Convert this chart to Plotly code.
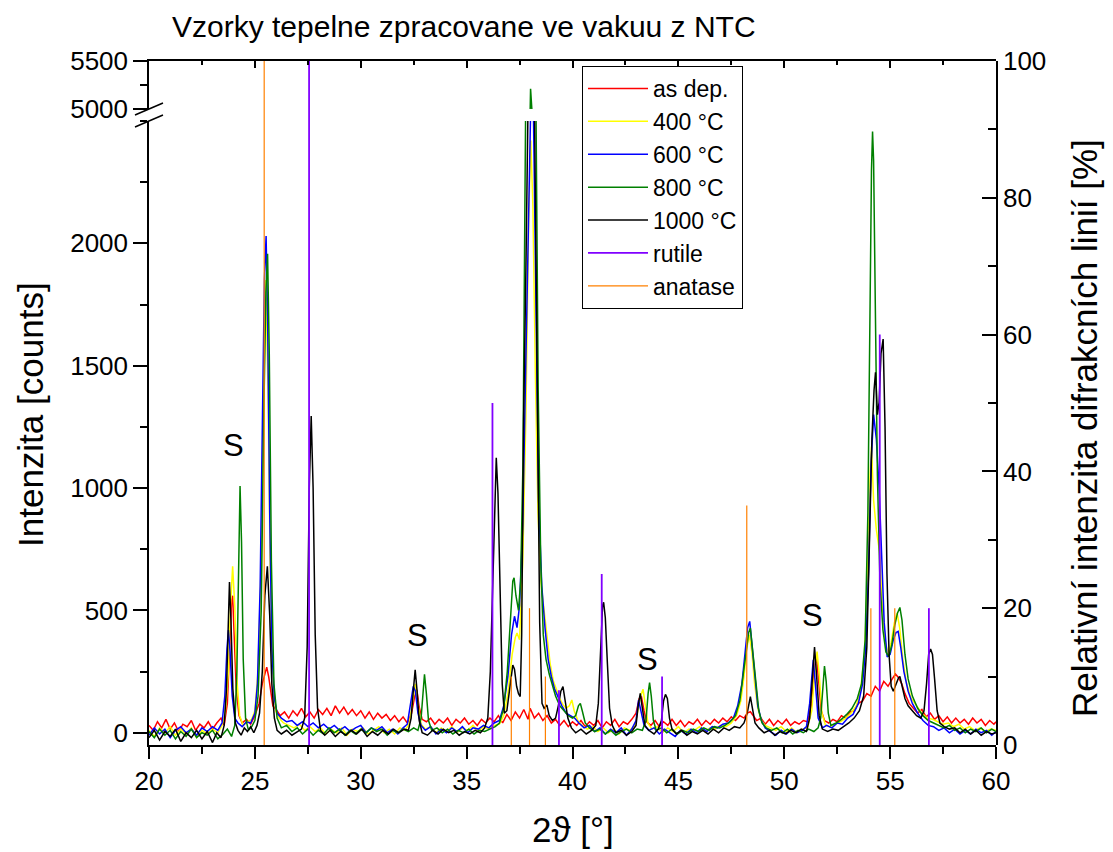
import plotly.graph_objects as go

# ---------------- data ----------------
as_dep = [(20.0,30),(20.2,10),(20.4,45),(20.6,20),(20.8,55),(21.0,15),(21.2,40),(21.4,5),(21.6,35),(21.8,25),(22.0,50),(22.2,10),(22.4,35),(22.6,20),(22.8,45),(23.0,15),(23.2,40),(23.4,60),(23.55,30),(23.7,120),(23.8,330),(23.9,540),(23.95,560),(24.02,420),(24.12,180),(24.25,70),(24.4,40),(24.6,55),(24.8,35),(25.0,70),(25.2,120),(25.35,200),(25.5,250),(25.56,268),(25.65,230),(25.75,160),(25.85,110),(26.0,95),(26.2,70),(26.4,85),(26.6,60),(26.8,90),(27.0,70),(27.2,100),(27.4,65),(27.6,85),(27.8,60),(28.0,95),(28.2,75),(28.4,100),(28.6,70),(28.8,110),(29.0,80),(29.2,105),(29.4,75),(29.6,95),(29.8,70),(30.0,90),(30.2,60),(30.4,85),(30.6,55),(30.8,80),(31.0,60),(31.2,75),(31.4,50),(31.6,70),(31.8,45),(32.0,65),(32.2,40),(32.4,80),(32.55,150),(32.65,175),(32.75,110),(32.9,55),(33.1,45),(33.3,60),(33.5,35),(33.7,55),(33.9,40),(34.1,60),(34.3,30),(34.5,55),(34.7,40),(34.9,60),(35.1,35),(35.3,50),(35.5,30),(35.7,55),(35.9,40),(36.1,60),(36.3,45),(36.5,70),(36.7,40),(36.9,75),(37.1,50),(37.3,85),(37.5,60),(37.7,95),(37.9,55),(38.0,100),(38.2,60),(38.4,80),(38.6,50),(38.8,70),(39.0,40),(39.2,55),(39.4,30),(39.6,50),(39.8,25),(40.0,45),(40.2,30),(40.4,50),(40.6,25),(40.8,45),(41.0,30),(41.2,50),(41.4,20),(41.6,45),(41.8,30),(42.0,55),(42.2,25),(42.4,45),(42.6,35),(42.8,55),(43.0,80),(43.15,140),(43.25,150),(43.38,90),(43.5,45),(43.7,30),(43.9,50),(44.1,25),(44.3,45),(44.5,30),(44.7,55),(44.9,30),(45.1,50),(45.3,25),(45.5,45),(45.7,35),(45.9,55),(46.1,30),(46.3,50),(46.5,35),(46.7,55),(46.9,40),(47.1,60),(47.3,45),(47.5,65),(47.7,50),(47.9,70),(48.1,60),(48.25,80),(48.4,86),(48.55,70),(48.7,50),(48.9,60),(49.1,35),(49.3,55),(49.5,30),(49.7,50),(49.9,35),(50.1,55),(50.3,30),(50.5,45),(50.7,35),(50.9,50),(51.1,45),(51.3,120),(51.42,260),(51.52,311),(51.62,220),(51.75,90),(51.9,50),(52.1,40),(52.3,55),(52.5,45),(52.7,70),(52.9,60),(53.1,85),(53.3,90),(53.5,120),(53.7,130),(53.9,160),(54.1,150),(54.3,190),(54.5,170),(54.7,210),(54.9,190),(55.1,220),(55.25,240),(55.4,225),(55.55,200),(55.7,160),(55.9,120),(56.1,100),(56.3,80),(56.5,95),(56.7,65),(56.9,80),(57.1,55),(57.3,70),(57.5,45),(57.7,65),(57.9,40),(58.1,60),(58.3,40),(58.5,55),(58.7,35),(58.9,60),(59.1,40),(59.3,55),(59.5,30),(59.7,50),(59.9,35),(60.0,45)]

t400 = [(20.0,10),(20.25,-15),(20.5,20),(20.75,0),(21.0,25),(21.25,-10),(21.5,15),(21.75,-5),(22.0,20),(22.25,-20),(22.5,10),(22.75,-5),(23.0,15),(23.25,0),(23.45,30),(23.6,80),(23.75,250),(23.85,520),(23.95,680),(24.05,520),(24.15,220),(24.28,70),(24.45,30),(24.65,45),(24.85,55),(25.0,90),(25.15,250),(25.3,700),(25.42,1400),(25.52,1850),(25.62,1400),(25.72,700),(25.84,250),(25.98,90),(26.15,60),(26.35,40),(26.6,30),(26.85,20),(27.1,35),(27.35,10),(27.6,25),(27.85,5),(28.1,20),(28.35,-5),(28.6,15),(28.85,0),(29.1,20),(29.35,-10),(29.6,15),(29.85,5),(30.1,20),(30.35,-5),(30.6,10),(30.85,25),(31.1,0),(31.35,15),(31.6,-5),(31.85,20),(32.1,10),(32.3,40),(32.45,130),(32.58,200),(32.7,120),(32.85,35),(33.05,15),(33.3,25),(33.55,0),(33.8,20),(34.05,5),(34.3,25),(34.55,0),(34.8,20),(35.05,10),(35.3,30),(35.55,5),(35.8,25),(36.05,15),(36.3,30),(36.55,35),(36.75,70),(36.95,160),(37.15,320),(37.3,390),(37.38,408),(37.5,380),(37.65,700),(37.8,1300),(37.93,2100),(38.03,2420),(38.13,2150),(38.25,1450),(38.37,900),(38.5,620),(38.65,500),(38.8,380),(38.95,280),(39.1,210),(39.25,170),(39.4,140),(39.55,115),(39.7,100),(39.85,110),(39.97,134),(40.08,90),(40.25,50),(40.45,30),(40.7,15),(40.95,25),(41.2,5),(41.45,20),(41.7,0),(41.95,15),(42.2,-5),(42.45,20),(42.7,10),(42.95,30),(43.1,90),(43.22,150),(43.33,178),(43.44,120),(43.56,40),(43.75,15),(44.0,25),(44.25,0),(44.5,20),(44.75,5),(45.0,25),(45.25,0),(45.5,15),(45.75,10),(46.0,25),(46.25,5),(46.5,20),(46.75,15),(47.0,30),(47.25,25),(47.5,40),(47.75,70),(47.95,130),(48.1,230),(48.22,340),(48.35,400),(48.47,330),(48.6,200),(48.75,100),(48.92,50),(49.1,30),(49.35,20),(49.6,10),(49.85,25),(50.1,5),(50.35,20),(50.6,0),(50.85,15),(51.1,20),(51.3,90),(51.45,260),(51.55,332),(51.65,240),(51.78,80),(51.95,30),(52.15,25),(52.4,35),(52.65,45),(52.9,60),(53.15,80),(53.4,110),(53.6,170),(53.8,330),(53.95,700),(54.05,1050),(54.12,1170),(54.22,950),(54.35,830),(54.5,740),(54.62,540),(54.76,380),(54.9,320),(55.05,370),(55.2,450),(55.33,490),(55.45,430),(55.6,300),(55.78,200),(56.0,140),(56.25,110),(56.5,80),(56.75,60),(57.0,55),(57.25,45),(57.5,35),(57.75,40),(58.0,25),(58.25,35),(58.5,15),(58.75,25),(59.0,10),(59.25,20),(59.5,5),(59.75,15),(60.0,10)]

t600 = [(20.0,-10),(20.25,20),(20.5,-5),(20.75,15),(21.0,-20),(21.25,10),(21.5,25),(21.75,0),(22.0,15),(22.25,-10),(22.5,20),(22.75,5),(23.0,25),(23.25,10),(23.45,40),(23.58,150),(23.68,340),(23.75,420),(23.83,330),(23.93,150),(24.05,60),(24.2,40),(24.4,25),(24.6,45),(24.8,40),(25.0,80),(25.12,200),(25.25,600),(25.36,1300),(25.45,1850),(25.53,2030),(25.6,1700),(25.7,900),(25.8,350),(25.92,140),(26.05,80),(26.25,60),(26.5,45),(26.75,50),(27.0,30),(27.25,45),(27.5,25),(27.75,40),(28.0,20),(28.25,35),(28.5,15),(28.75,30),(29.0,10),(29.25,25),(29.5,5),(29.75,20),(30.0,30),(30.25,0),(30.5,20),(30.75,10),(31.0,25),(31.25,0),(31.5,15),(31.75,-5),(32.0,20),(32.2,35),(32.35,110),(32.48,190),(32.58,170),(32.7,80),(32.85,30),(33.05,10),(33.3,25),(33.55,-5),(33.8,15),(34.05,0),(34.3,20),(34.55,5),(34.8,25),(35.05,0),(35.3,20),(35.55,15),(35.8,30),(36.05,20),(36.3,40),(36.55,50),(36.75,110),(36.95,230),(37.12,400),(37.26,476),(37.38,430),(37.5,520),(37.65,850),(37.8,1500),(37.92,2100),(38.0,2500),(38.08,2800),(38.16,2500),(38.28,1600),(38.4,950),(38.55,600),(38.7,430),(38.85,300),(39.0,230),(39.15,180),(39.3,150),(39.5,110),(39.7,80),(39.9,70),(40.1,60),(40.3,40),(40.55,20),(40.8,30),(41.05,5),(41.3,20),(41.55,-5),(41.8,15),(42.05,0),(42.3,20),(42.55,-10),(42.8,15),(43.0,50),(43.12,134),(43.24,90),(43.38,30),(43.6,10),(43.85,20),(44.1,-5),(44.35,15),(44.6,0),(44.85,-15),(45.1,10),(45.35,-5),(45.6,15),(45.85,0),(46.1,20),(46.35,5),(46.6,25),(46.85,20),(47.1,35),(47.35,40),(47.6,60),(47.8,110),(48.0,200),(48.15,330),(48.27,430),(48.37,455),(48.48,360),(48.6,230),(48.75,110),(48.92,50),(49.1,20),(49.35,5),(49.6,-10),(49.85,10),(50.1,-5),(50.35,15),(50.6,0),(50.85,10),(51.05,25),(51.2,120),(51.3,240),(51.37,298),(51.47,200),(51.6,60),(51.8,20),(52.0,30),(52.25,20),(52.5,40),(52.75,35),(53.0,60),(53.25,75),(53.5,120),(53.7,200),(53.85,350),(53.98,650),(54.1,1100),(54.22,1300),(54.35,1200),(54.48,1000),(54.6,700),(54.72,450),(54.86,310),(55.0,320),(55.15,380),(55.28,410),(55.38,414),(55.5,350),(55.65,250),(55.85,170),(56.05,120),(56.3,80),(56.55,50),(56.8,30),(57.05,25),(57.3,10),(57.55,20),(57.8,0),(58.05,15),(58.3,-5),(58.55,10),(58.8,-5),(59.05,15),(59.3,0),(59.55,10),(59.8,-10),(60.0,5)]

t800 = [(20.0,5),(20.25,-20),(20.5,15),(20.75,-10),(21.0,10),(21.25,-25),(21.5,5),(21.75,-15),(22.0,15),(22.25,-20),(22.5,0),(22.75,-10),(23.0,10),(23.25,-25),(23.5,-5),(23.7,15),(23.9,-15),(24.05,30),(24.15,250),(24.23,750),(24.3,1008),(24.37,780),(24.45,300),(24.56,60),(24.7,10),(24.85,25),(25.0,50),(25.15,150),(25.3,500),(25.42,1300),(25.52,1800),(25.6,1957),(25.68,1550),(25.78,700),(25.9,200),(26.05,60),(26.25,20),(26.5,30),(26.75,5),(27.0,20),(27.25,-5),(27.5,15),(27.75,-10),(28.0,10),(28.25,-5),(28.5,20),(28.75,0),(29.0,15),(29.25,-10),(29.5,10),(29.75,-5),(30.0,15),(30.25,0),(30.5,20),(30.75,5),(31.0,15),(31.25,-10),(31.5,10),(31.75,0),(32.0,15),(32.25,5),(32.5,20),(32.7,10),(32.85,60),(32.94,170),(33.01,239),(33.1,160),(33.2,50),(33.35,10),(33.6,20),(33.85,0),(34.1,15),(34.35,-5),(34.6,10),(34.85,0),(35.1,15),(35.35,-5),(35.6,10),(35.85,5),(36.1,15),(36.35,25),(36.55,40),(36.75,100),(36.92,250),(37.07,480),(37.18,620),(37.24,633),(37.33,560),(37.45,500),(37.55,620),(37.66,1100),(37.78,2500),(37.88,3700),(37.96,4900),(38.02,5210),(38.08,5000),(38.16,3800),(38.28,2500),(38.38,1400),(38.5,700),(38.62,400),(38.75,300),(38.9,240),(39.05,190),(39.2,150),(39.4,110),(39.6,90),(39.8,70),(40.0,60),(40.15,70),(40.28,110),(40.37,120),(40.46,90),(40.6,40),(40.8,20),(41.05,5),(41.3,15),(41.55,-5),(41.8,10),(42.05,-10),(42.3,5),(42.55,15),(42.8,0),(43.05,15),(43.3,10),(43.47,50),(43.57,160),(43.64,205),(43.72,150),(43.82,50),(43.95,10),(44.2,20),(44.45,0),(44.7,15),(44.95,-5),(45.2,10),(45.45,0),(45.7,15),(45.95,5),(46.2,20),(46.45,10),(46.7,25),(46.95,20),(47.2,30),(47.45,45),(47.7,70),(47.9,130),(48.05,230),(48.2,330),(48.32,410),(48.4,428),(48.52,330),(48.65,200),(48.8,90),(48.95,40),(49.15,20),(49.4,10),(49.65,20),(49.9,0),(50.15,15),(50.4,-5),(50.65,10),(50.9,0),(51.15,15),(51.4,5),(51.6,20),(51.72,60),(51.82,200),(51.9,273),(51.98,210),(52.08,80),(52.2,30),(52.45,40),(52.7,55),(52.95,75),(53.2,100),(53.45,140),(53.65,200),(53.82,380),(53.95,900),(54.06,1850),(54.12,2300),(54.17,2457),(54.22,2336),(54.3,1750),(54.4,1050),(54.52,620),(54.66,420),(54.8,330),(54.94,311),(55.08,360),(55.22,440),(55.35,490),(55.46,512),(55.56,460),(55.7,320),(55.85,220),(56.05,150),(56.3,100),(56.55,70),(56.8,50),(57.05,40),(57.3,30),(57.55,20),(57.8,30),(58.05,10),(58.3,20),(58.55,0),(58.8,15),(59.05,5),(59.3,20),(59.55,0),(59.8,15),(60.0,5)]

t1000 = [(20.0,-20),(20.25,10),(20.5,-30),(20.75,5),(21.0,-15),(21.25,15),(21.5,-35),(21.75,0),(22.0,-20),(22.25,10),(22.5,-25),(22.75,5),(23.0,-40),(23.2,0),(23.4,-20),(23.55,30),(23.66,180),(23.74,470),(23.8,616),(23.87,460),(23.96,180),(24.08,40),(24.2,10),(24.35,-10),(24.5,20),(24.65,5),(24.8,25),(24.95,0),(25.1,30),(25.22,80),(25.35,250),(25.47,560),(25.59,680),(25.7,480),(25.8,200),(25.92,60),(26.05,10),(26.25,-5),(26.5,10),(26.75,-10),(27.0,5),(27.2,15),(27.35,60),(27.47,350),(27.57,1000),(27.66,1294),(27.75,1000),(27.85,400),(27.96,100),(28.1,10),(28.3,-10),(28.55,10),(28.8,-15),(29.05,5),(29.3,-10),(29.55,10),(29.8,-5),(30.05,15),(30.3,-15),(30.55,5),(30.8,-10),(31.05,10),(31.3,-5),(31.55,15),(31.8,0),(32.05,15),(32.25,10),(32.38,60),(32.48,170),(32.57,257),(32.66,170),(32.76,50),(32.9,0),(33.15,-10),(33.4,10),(33.65,-5),(33.9,15),(34.15,0),(34.4,10),(34.65,-10),(34.9,5),(35.15,-5),(35.4,10),(35.65,0),(35.85,20),(36.0,60),(36.12,250),(36.22,600),(36.32,950),(36.4,1124),(36.48,980),(36.58,550),(36.68,200),(36.78,80),(36.9,90),(37.02,170),(37.12,250),(37.18,277),(37.26,260),(37.36,190),(37.45,160),(37.53,148),(37.6,400),(37.69,1280),(37.8,1900),(37.93,2500),(38.07,3700),(38.21,2500),(38.33,1300),(38.45,450),(38.56,120),(38.66,100),(38.79,113),(38.9,70),(39.05,50),(39.2,60),(39.33,110),(39.45,170),(39.55,189),(39.65,140),(39.78,60),(39.95,20),(40.15,0),(40.4,15),(40.65,-5),(40.9,10),(41.1,30),(41.22,120),(41.33,380),(41.42,520),(41.47,533),(41.55,470),(41.65,280),(41.75,100),(41.88,30),(42.05,0),(42.3,10),(42.55,-10),(42.8,5),(43.0,30),(43.1,110),(43.2,161),(43.3,100),(43.42,30),(43.6,10),(43.85,-5),(44.05,15),(44.2,50),(44.3,130),(44.39,157),(44.48,140),(44.58,60),(44.7,15),(44.9,-5),(45.15,10),(45.4,-10),(45.65,5),(45.9,-5),(46.15,10),(46.4,-5),(46.65,15),(46.9,0),(47.15,20),(47.4,10),(47.65,25),(47.9,20),(48.1,40),(48.25,80),(48.4,148),(48.5,90),(48.62,40),(48.8,20),(49.05,0),(49.3,10),(49.55,-10),(49.8,5),(50.05,-5),(50.3,10),(50.55,0),(50.8,15),(51.05,5),(51.2,60),(51.32,220),(51.43,350),(51.53,230),(51.65,70),(51.8,15),(52.05,5),(52.3,15),(52.55,10),(52.8,25),(53.05,40),(53.3,60),(53.55,90),(53.75,150),(53.9,350),(54.03,800),(54.14,1200),(54.24,1400),(54.31,1473),(54.4,1300),(54.48,1350),(54.57,1550),(54.67,1609),(54.76,1250),(54.85,650),(54.95,320),(55.05,190),(55.15,170),(55.28,200),(55.4,225),(55.46,230),(55.56,190),(55.7,140),(55.85,110),(56.05,90),(56.25,70),(56.45,60),(56.6,90),(56.72,200),(56.82,320),(56.91,342),(57.0,320),(57.1,220),(57.22,90),(57.35,40),(57.55,25),(57.8,15),(58.05,20),(58.3,0),(58.55,15),(58.8,-5),(59.05,10),(59.3,-10),(59.55,5),(59.8,-5),(60.0,0)]

rutile_pos = [27.56, 36.22, 39.36, 41.38, 44.23, 54.51, 56.83]
rutile_int = [100, 50, 8, 25, 10, 60, 20]
anatase_pos = [25.44, 37.11, 37.97, 38.72, 48.23, 54.09, 55.22]
anatase_int = [100, 10, 20, 10, 35, 20, 20]

series_names = ["as dep.", "400 °C", "600 °C", "800 °C", "1000 °C"]
series_data = [as_dep, t400, t600, t800, t1000]
series_colors = ["#FF0000", "#FFFF00", "#0000FF", "#008000", "#000000"]

s_marks_x = [23.97, 32.67, 43.53, 51.33]
s_marks_y = [1175, 396, 298, 478]

x_tickvals = [20, 25, 30, 35, 40, 45, 50, 55, 60]
low_tickvals = [0, 500, 1000, 1500, 2000]
high_tickvals = [5000, 5500]
right_tickvals = [0, 20, 40, 60, 80, 100]

# ---------------- figure ----------------
FONT = "Liberation Sans, Arial, sans-serif"
W, H = 1113, 852
ML, MR, MT, MB = 149, 117, 61, 107
PW, PH = W - ML - MR, H - MT - MB

def px_to_py(py):
    return (H - MB - py) / PH

def px_to_px(pxx):
    return (pxx - ML) / PW

fig = go.Figure()

for name, pts, col in zip(series_names, series_data, series_colors):
    xs = [p[0] for p in pts]
    ys = [p[1] for p in pts]
    fig.add_trace(go.Scatter(x=xs, y=ys, mode="lines", name=name,
                             line=dict(color=col, width=1.5),
                             xaxis="x", yaxis="y", hoverinfo="skip"))
    if max(ys) > 5000:
        fig.add_trace(go.Scatter(x=xs, y=ys, mode="lines", name=name, showlegend=False,
                                 line=dict(color=col, width=1.5),
                                 xaxis="x2", yaxis="y3", hoverinfo="skip"))

def sticks(pos, inten):
    xs, ys = [], []
    for p, h in zip(pos, inten):
        xs += [p, p, None]
        ys += [0, h, None]
    return xs, ys

rx, ry = sticks(rutile_pos, rutile_int)
fig.add_trace(go.Scatter(x=rx, y=ry, mode="lines", name="rutile",
                         line=dict(color="#8000FF", width=1.8),
                         xaxis="x", yaxis="y2", hoverinfo="skip"))
ax_, ay_ = sticks(anatase_pos, anatase_int)
fig.add_trace(go.Scatter(x=ax_, y=ay_, mode="lines", name="anatase",
                         line=dict(color="#FF8000", width=1.2),
                         xaxis="x", yaxis="y2", hoverinfo="skip"))

for sx, sy in zip(s_marks_x, s_marks_y):
    fig.add_annotation(x=sx, y=sy, xref="x", yref="y", text="S", showarrow=False,
                       xanchor="center", yanchor="middle",
                       font=dict(family=FONT, size=31, color="black"))

low_top = px_to_py(121)
high_bot = px_to_py(109)

tickfont = dict(family=FONT, size=26, color="black")
fig.update_layout(
    width=W, height=H,
    margin=dict(l=ML, r=MR, t=MT, b=MB),
    paper_bgcolor="white", plot_bgcolor="rgba(0,0,0,0)",
    showlegend=True,
    title=dict(text="Vzorky tepelne zpracovane ve vakuu z NTC",
               font=dict(family=FONT, size=30, color="black"),
               x=px_to_px(172), xref="paper", xanchor="left",
               y=1 - 26 / H, yref="container", yanchor="middle"),
    xaxis=dict(domain=[0, 1], range=[20, 60], anchor="y",
               tickmode="array", tickvals=x_tickvals, tickfont=tickfont,
               ticks="outside", ticklen=12, tickwidth=1.5, tickcolor="black",
               minor=dict(tickmode="linear", tick0=20, dtick=2.5, ticklen=7, tickwidth=1.5, tickcolor="black", ticks="outside"),
               showline=True, linecolor="black", linewidth=1.5,
               showgrid=False, zeroline=False),
    xaxis2=dict(domain=[0, 1], range=[20, 60], anchor="y3", side="top", matches="x",
                tickmode="array", tickvals=x_tickvals, showticklabels=False,
                ticks="inside", ticklen=7, tickwidth=1.5, tickcolor="black",
                minor=dict(tickmode="linear", tick0=20, dtick=2.5, ticklen=4, tickwidth=1.5, tickcolor="black", ticks="inside"),
                showline=True, linecolor="black", linewidth=1.5,
                showgrid=False, zeroline=False),
    yaxis=dict(domain=[0, low_top], range=[-50, 2500], anchor="x",
               tickmode="array", tickvals=low_tickvals, tickfont=tickfont,
               ticks="outside", ticklen=14, tickwidth=1.5, tickcolor="black",
               minor=dict(tickmode="linear", tick0=0, dtick=250, ticklen=7, tickwidth=1.5, tickcolor="black", ticks="outside"),
               showline=True, linecolor="black", linewidth=1.5,
               showgrid=False, zeroline=False),
    yaxis3=dict(domain=[high_bot, 1], range=[5000, 5500], anchor="x2",
                tickmode="array", tickvals=high_tickvals, tickfont=tickfont,
                ticks="outside", ticklen=14, tickwidth=1.5, tickcolor="black",
                minor=dict(tickmode="linear", tick0=5000, dtick=250, ticklen=7, tickwidth=1.5, tickcolor="black", ticks="outside"),
                showline=True, linecolor="black", linewidth=1.5,
                showgrid=False, zeroline=False),
    yaxis2=dict(domain=[0, 1], range=[0, 100], anchor="x", side="right",
                tickmode="array", tickvals=right_tickvals, tickfont=tickfont,
                ticks="inside", ticklen=14, tickwidth=1.5, tickcolor="black",
                minor=dict(tickmode="linear", tick0=0, dtick=10, ticklen=8, tickwidth=1.5, tickcolor="black", ticks="inside"),
                showline=True, linecolor="black", linewidth=1.5,
                showgrid=False, zeroline=False),
    legend=dict(x=px_to_px(582), y=px_to_py(66), xanchor="left", yanchor="top",
                bgcolor="white", bordercolor="black", borderwidth=1,
                font=dict(family=FONT, size=23, color="black"),
                itemwidth=60, tracegroupgap=0),
)

# axis titles as annotations
fig.add_annotation(x=px_to_px(30), y=px_to_py(415), xref="paper", yref="paper",
                   xanchor="center", yanchor="middle",
                   text="Intenzita [counts]", textangle=-90, showarrow=False,
                   font=dict(family=FONT, size=35, color="black"))
fig.add_annotation(x=px_to_px(1085), y=px_to_py(428), xref="paper", yref="paper",
                   xanchor="center", yanchor="middle",
                   text="Relativní intenzita difrakcních linií [%]", textangle=-90, showarrow=False,
                   font=dict(family=FONT, size=35, color="black"))
fig.add_annotation(x=0.5, y=px_to_py(829), xref="paper", yref="paper",
                   xanchor="center", yanchor="middle",
                   text="2ϑ [°]", showarrow=False,
                   font=dict(family=FONT, size=35, color="black"))

# axis-break marks
for y0, y1 in [(115, 103), (127, 115)]:
    fig.add_shape(type="line", xref="paper", yref="paper",
                  x0=px_to_px(135), y0=px_to_py(y0), x1=px_to_px(163), y1=px_to_py(y1),
                  line=dict(color="black", width=1.5))

fig.write_html("out.html")
